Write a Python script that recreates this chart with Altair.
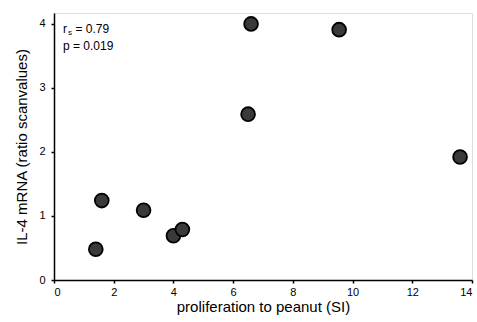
import altair as alt
import pandas as pd

# data
prolif = [1.4, 1.6, 3.0, 4.0, 4.3, 6.5, 6.6, 9.55, 13.6]
il4 = [0.48, 1.24, 1.09, 0.69, 0.79, 2.59, 4.0, 3.91, 1.92]

x_ticks = [0, 2, 4, 6, 8, 10, 12, 14]
y_ticks = [0, 1, 2, 3, 4]

ann_text = ["r", "= 0.79", "p = 0.019"]
ann_x = [0.3, 0.72, 0.3]
ann_y = [3.92, 3.92, 3.65]

df = pd.DataFrame({"x": prolif, "y": il4})
ann = pd.DataFrame({"t": ann_text, "x": ann_x, "y": ann_y})
sub = pd.DataFrame({"t": ["s"], "x": [0.47], "y": [3.86]})

FONT = "Liberation Sans"

xs = alt.Scale(domain=[0, 14], nice=False, zero=False)
ys = alt.Scale(domain=[0, 4.17], nice=False)

pts = alt.Chart(df).mark_point(
    filled=True, size=190, color="#3a3a3a", stroke="black", strokeWidth=1.8, opacity=1
).encode(
    x=alt.X("x:Q", scale=xs, axis=alt.Axis(
        values=x_ticks, format="d", title="proliferation to peanut (SI)", grid=False,
        labelFont=FONT, labelFontSize=11, labelColor="black",
        titleFont=FONT, titleFontSize=15, titleFontWeight="normal", titleColor="black",
        domainColor="black", domainWidth=1.5, tickColor="black", tickSize=3, tickWidth=1.5,
        labelPadding=3, titlePadding=2)),
    y=alt.Y("y:Q", scale=ys, axis=alt.Axis(
        values=y_ticks, format="d", title="IL-4 mRNA (ratio scanvalues)", grid=False,
        labelFont=FONT, labelFontSize=11, labelColor="black",
        titleFont=FONT, titleFontSize=15, titleFontWeight="normal", titleColor="black",
        domainColor="black", domainWidth=1.5, tickColor="black", tickSize=3, tickWidth=1.5,
        labelPadding=6, titlePadding=9)),
)

txt = alt.Chart(ann).mark_text(
    align="left", baseline="middle", font=FONT, fontSize=12, color="black"
).encode(x=alt.X("x:Q", scale=xs), y=alt.Y("y:Q", scale=ys), text="t:N")

subt = alt.Chart(sub).mark_text(
    align="left", baseline="middle", font=FONT, fontSize=8, color="black"
).encode(x=alt.X("x:Q", scale=xs), y=alt.Y("y:Q", scale=ys), text="t:N")

chart = alt.layer(pts, txt, subt).properties(
    width=418, height=267,
    autosize=alt.AutoSizeParams(type="none"),
    padding={"left": 54, "top": 13, "right": 5, "bottom": 42},
).configure_view(stroke="black", strokeWidth=1.5).configure(background="white")

chart.save("out.html", embed_options={"renderer": "svg", "actions": False})
